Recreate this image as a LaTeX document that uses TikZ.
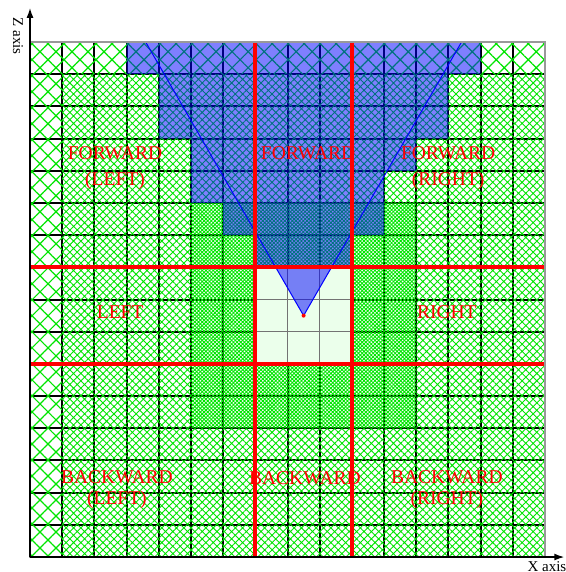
\documentclass[tikz,border=0pt]{standalone}
\usepackage{fontspec}
\setmainfont{Liberation Serif}
\usetikzlibrary{arrows.meta,patterns.meta}

\begin{document}
\begin{tikzpicture}[
                x=16.095pt, y=-16.095pt,
                cellline/.style={draw=black, line width=1pt, xstep=16.095pt, ystep=16.095pt},
                coreline/.style={draw=black!55, line width=0.6pt, xstep=16.095pt, ystep=16.095pt},
                coarse/.style={pattern={Hatch[angle=45,distance=5.66pt,line width=0.6pt]}, pattern color=green!90!black},
                medium/.style={pattern={Hatch[angle=45,distance=2.6pt,line width=0.45pt]}, pattern color=green!90!black},
                dense/.style={pattern={Hatch[angle=45,distance=1.3pt,line width=0.45pt]}, pattern color=green!90!black},
                corebg/.style={fill=green!8},
                view/.style={fill=blue, fill opacity=0.5},
                cone/.style={draw=blue, line width=0.5pt},
                zone/.style={text=red, font=\fontsize{9.75}{13}\selectfont, align=center, inner sep=0pt},
                regionline/.style={red, line width=2pt},
                axis/.style={-{Latex[length=5pt,width=3.5pt]}, line width=0.75pt},
                axislabel/.style={font=\fontsize{7.5}{9}\selectfont, inner sep=0pt},
            ]
            \useasboundingbox (-0.932,-1.305) rectangle (16.651,16.465);
            \fill[white] (-0.932,-1.305) rectangle (16.651,16.465);

            \draw[cellline] (0,0) grid (16,16);
            \fill[corebg] (7,7) rectangle (10,10);
            \draw[coreline] (7,7) grid (10,10);

            \path[coarse] (0,0) -- (16,0) -- (16,1) -- (1,1) -- (1,16) -- (0,16) -- cycle;
            \path[medium, even odd rule] (1,1) rectangle (16,16) (5,5) rectangle (12,12);
            \path[dense, even odd rule] (5,5) rectangle (12,12) (7,7) rectangle (10,10);

            \fill[view] (3,0) -- (14,0) -- (14,1) -- (13,1) -- (13,3) -- (12,3) -- (12,4) -- (11,4) -- (11,6)
                -- (10,6) -- (10,7) -- (7,7) -- (7,6) -- (6,6) -- (6,5) -- (5,5) -- (5,3) -- (4,3) -- (4,1) -- (3,1) -- cycle;

            \coordinate (eye) at (8.5,8.5);
            \coordinate (farleft) at (3.593,0);
            \coordinate (farright) at (13.407,0);
            \begin{scope}
                \clip (7,7) rectangle (10,10);
                \fill[view] (eye) -- (farleft) -- (farright) -- cycle;
            \end{scope}
            \draw[cone] (farleft) -- (eye) -- (farright);
            \fill[red] (eye) circle (1pt);

            \node[zone] (fwdleft) at (2.64,3.92) {FORWARD\\(LEFT)};
            \node[zone] (fwd) at (8.64,3.46) {FORWARD};
            \node[zone] (fwdright) at (12.99,3.92) {FORWARD\\(RIGHT)};
            \node[zone] (left) at (2.80,8.39) {LEFT};
            \node[zone] (right) at (12.95,8.39) {RIGHT};
            \node[zone] (bwdleft) at (2.70,13.92) {BACKWARD\\[-2.5pt](LEFT)};
            \node[zone] (bwd) at (8.54,13.56) {BACKWARD};
            \node[zone] (bwdright) at (12.95,13.92) {BACKWARD\\[-2.5pt](RIGHT)};

            \draw[regionline] (7,0) -- (7,16);
            \draw[regionline] (10,0) -- (10,16);
            \draw[regionline] (0,7) -- (16,7);
            \draw[regionline] (0,10) -- (16,10);

            \draw[black!40, line width=0.75pt] (0,0) rectangle (16,16);
            \coordinate (origin) at (0,16);
            \coordinate (ztip) at (0,-1.06);
            \coordinate (xtip) at (16.6,16);
            \draw[axis] (origin) -- (ztip);
            \draw[axis] (origin) -- (xtip);
            \node[axislabel, rotate=-90] (zlabel) at (-0.373,-0.186) {Z axis};
            \node[axislabel] (xlabel) at (16.06,16.3) {X axis};
        \end{tikzpicture}
\end{document}
